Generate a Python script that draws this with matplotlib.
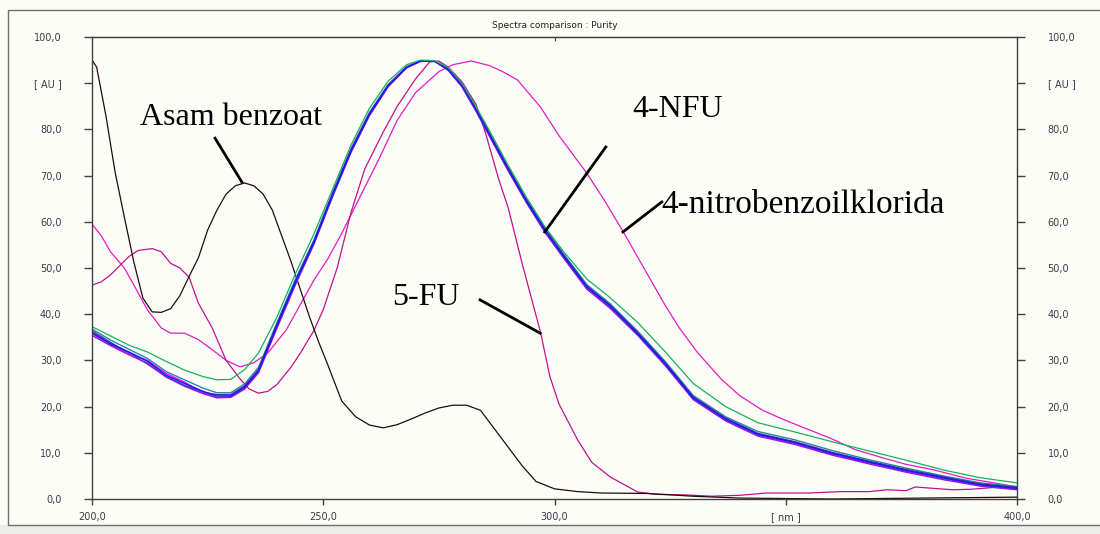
import matplotlib
matplotlib.use("Agg")
import matplotlib.pyplot as plt
from matplotlib.patches import Rectangle

# wavelength grid for the 4-NFU replicate spectra (nm)
nfu_wl = [200, 204, 208, 212, 216, 220, 224, 227, 230, 233, 236, 240, 244, 248, 252, 256, 260, 264,
          268, 271, 274, 277, 280, 283, 286, 290, 294, 298, 302, 307, 312, 318, 324, 330, 337, 344,
          352, 360, 368, 376, 384, 392, 400]
nfu_blue = [36.0, 33.6, 31.8, 29.8, 26.8, 25.0, 23.3, 22.3, 22.3, 24.2, 27.8, 37.6, 47.0, 55.6, 65.8,
            75.4, 83.3, 89.4, 93.4, 94.8, 94.8, 93.0, 89.5, 84.3, 78.8, 71.4, 64.4, 58.1, 52.5, 45.9,
            41.8, 35.8, 29.2, 21.9, 17.3, 14.0, 12.2, 9.9, 8.0, 6.2, 4.6, 3.1, 2.3]
nfu_violet = [35.4, 33.2, 31.2, 29.4, 26.4, 24.4, 22.8, 21.9, 22.0, 23.8, 27.3, 37.0, 46.4, 55.2, 65.4,
              75.0, 83.0, 89.2, 93.3, 94.7, 94.8, 92.8, 89.2, 84.0, 78.4, 71.0, 64.0, 57.6, 52.1, 45.4,
              41.3, 35.4, 28.8, 21.5, 16.9, 13.6, 11.8, 9.5, 7.6, 5.8, 4.2, 2.8, 2.0]
nfu_magenta = [35.8, 33.4, 31.5, 30.0, 27.2, 25.3, 23.0, 22.0, 22.1, 24.0, 27.6, 37.3, 46.7, 55.3, 65.6,
               75.2, 83.1, 89.3, 93.4, 94.8, 94.8, 92.9, 89.3, 84.1, 78.6, 71.2, 64.2, 57.9, 52.3, 45.7,
               41.5, 35.6, 29.0, 21.7, 17.1, 13.8, 12.0, 9.7, 7.8, 6.0, 4.4, 3.0, 2.1]
nfu_teal = [36.8, 34.4, 32.4, 30.4, 27.6, 25.8, 24.0, 23.0, 23.0, 24.9, 28.5, 38.2, 47.6, 56.1, 66.3,
            75.8, 83.7, 89.7, 93.6, 94.8, 94.8, 93.2, 89.8, 84.7, 79.2, 71.8, 64.8, 58.6, 53.0, 46.4,
            42.3, 36.3, 29.7, 22.4, 17.8, 14.6, 12.8, 10.5, 8.5, 6.7, 5.0, 3.5, 2.7]
nfu_navy = [36.4, 33.9, 31.6, 29.2, 26.5, 24.6, 23.1, 22.6, 22.6, 24.5, 28.0, 37.8, 47.2, 55.8, 66.0,
            75.6, 83.5, 89.5, 93.5, 94.8, 94.8, 93.1, 89.6, 84.5, 79.0, 71.6, 64.6, 58.3, 52.8, 46.1,
            42.0, 36.0, 29.4, 22.1, 17.5, 14.2, 12.4, 10.1, 8.2, 6.4, 4.8, 3.3, 2.5]
nfu_green = [37.3, 35.3, 33.3, 31.8, 29.8, 27.9, 26.5, 25.8, 25.9, 28.0, 31.6, 39.4, 48.8, 57.4, 67.0,
             76.6, 84.6, 90.4, 94.0, 95.0, 94.9, 93.4, 90.0, 85.0, 79.6, 72.2, 65.2, 58.8, 53.5, 47.6,
             43.6, 38.2, 31.8, 25.0, 20.0, 16.5, 14.5, 12.4, 10.4, 8.4, 6.3, 4.6, 3.5]

# asam benzoat
ab_wl = [200, 201, 203, 205, 207, 209, 211, 213, 215, 217, 219, 221, 223, 225, 227, 229, 231, 233, 235,
         237, 239, 241, 243, 245, 247, 249, 251, 254, 257, 260, 263, 266, 269, 272, 275, 278, 281, 284,
         287, 290, 293, 296, 300, 305, 310, 320, 330, 340, 350, 360, 370, 380, 390, 400]
ab_abs = [95.0, 93.5, 83.0, 70.7, 61.0, 51.5, 43.5, 40.5, 40.4, 41.2, 44.0, 48.2, 52.2, 58.2, 62.5, 66.0,
          67.8, 68.4, 67.8, 66.0, 62.5, 57.0, 51.5, 45.5, 39.5, 34.0, 29.0, 21.2, 17.8, 16.0, 15.4, 16.1,
          17.3, 18.6, 19.7, 20.3, 20.3, 19.2, 15.2, 11.2, 7.2, 3.8, 2.2, 1.6, 1.3, 1.2, 0.6, 0.2, 0.1, 0.0,
          0.1, 0.2, 0.3, 0.4]

# 5-FU
fu_wl = [200, 202, 204, 206, 208, 210, 213, 215, 217, 219, 221, 223, 226, 229, 232, 234, 236, 238, 240,
         243, 245, 248, 250, 253, 256, 259, 263, 266, 270, 273, 275, 277, 280, 283, 285, 288, 290, 293,
         297, 299, 301, 305, 308, 312, 318, 322, 328, 334, 340, 346, 355, 362, 368, 372, 376, 378, 382,
         386, 390, 395, 400]
fu_abs = [46.3, 47.0, 48.5, 50.5, 52.5, 53.8, 54.2, 53.5, 51.0, 50.0, 48.0, 42.4, 37.0, 30.0, 26.0, 23.8,
          22.9, 23.3, 24.8, 28.5, 31.5, 36.5, 41.0, 50.0, 62.0, 71.5, 79.5, 85.0, 91.0, 94.6, 94.8, 93.5,
          90.3, 85.5, 79.5, 69.0, 63.0, 51.0, 36.0, 26.5, 20.5, 12.8, 8.0, 4.8, 1.5, 1.0, 0.9, 0.6, 0.8,
          1.3, 1.3, 1.6, 1.6, 2.0, 1.8, 2.6, 2.3, 2.0, 2.1, 2.5, 2.4]

# 4-nitrobenzoilklorida
nb_wl = [200, 202, 204, 207, 209.5, 212, 215, 217, 220, 223, 226, 229, 232, 235, 238, 242, 245, 248, 251,
         254, 258, 262, 266, 270, 275, 278, 282, 286, 289, 292, 297, 301, 307, 311, 315, 320, 324, 327,
         331, 336, 340, 345, 350, 355, 360, 365, 371, 376, 382, 389, 395, 400]
nb_abs = [59.5, 57.0, 53.5, 50.0, 45.5, 40.9, 37.0, 35.9, 35.9, 34.5, 32.3, 30.0, 28.6, 29.5, 31.6, 36.6,
          42.0, 47.4, 52.0, 57.5, 65.5, 73.5, 82.0, 88.0, 92.5, 94.0, 94.8, 93.8, 92.4, 90.7, 84.8, 78.6,
          70.5, 64.3, 57.6, 48.8, 41.8, 37.0, 31.6, 26.0, 22.4, 19.2, 17.0, 15.0, 13.0, 10.7, 8.9, 7.5,
          6.3, 4.5, 3.5, 2.6]

x_ticks = [200, 250, 300, 350, 400]
x_labels = ["200,0", "250,0", "300,0", "[ nm ]", "400,0"]
y_ticks = [0, 10, 20, 30, 40, 50, 60, 70, 80, 90, 100]
y_labels = ["0,0", "10,0", "20,0", "30,0", "40,0", "50,0", "60,0", "70,0", "80,0", "[ AU ]", "100,0"]

bg = "#fdfdf7"
fig = plt.figure(figsize=(11, 5.34), dpi=100, facecolor=bg)

# outer frame and grey strip at the bottom
fig.patches.append(Rectangle((0, 0), 1, 1 - 525 / 534, transform=fig.transFigure,
                             facecolor="#ededea", edgecolor="none", zorder=-10))
fig.patches.append(Rectangle((8 / 1100, 1 - 525 / 534), 1.0, (525 - 10) / 534,
                             transform=fig.transFigure, facecolor=bg, edgecolor="#707070",
                             lw=1.0, zorder=-10))

ax = fig.add_axes([92 / 1100, 1 - 499 / 534, 925 / 1100, 462 / 534])
ax.set_facecolor(bg)

ax.plot(nb_wl, nb_abs, color="#e21cc6", lw=0.9)
ax.plot(fu_wl, fu_abs, color="#c0128e", lw=0.9)
ax.plot(ab_wl, ab_abs, color="#1e0c10", lw=0.9)
ax.plot(nfu_wl, nfu_teal, color="#2a84a8", lw=1.0)
ax.plot(nfu_wl, nfu_navy, color="#3a3a90", lw=1.0)
ax.plot(nfu_wl, nfu_magenta, color="#e010e8", lw=1.0)
ax.plot(nfu_wl, nfu_violet, color="#8a18e8", lw=1.0)
ax.plot(nfu_wl, nfu_blue, color="#1818f0", lw=1.1)
ax.plot(nfu_wl, nfu_green, color="#16b060", lw=0.9)

ax.set_xlim(200, 400)
ax.set_ylim(0, 100)

ax.set_xticks(x_ticks)
ax.set_xticklabels(x_labels)
ax.set_yticks(y_ticks)
ax.set_yticklabels(y_labels)
for s in ax.spines.values():
    s.set_color("#404040")
    s.set_linewidth(1.0)
ax.tick_params(axis="y", left=True, right=True, labelleft=True, labelright=True,
               length=6, width=1, color="#404040", labelsize=7, labelcolor="#3a3a4a", pad=16)
ax.tick_params(axis="x", length=4.5, width=1, color="#404040", labelsize=7,
               labelcolor="#3a3a4a", pad=5)
top = ax.secondary_xaxis("top")
top.set_xticks([300])
top.set_xticklabels([])
top.tick_params(direction="in", length=3, color="#404040")

fig.text(555 / 1100, 1 - 25 / 534, "Spectra comparison : Purity", ha="center", va="center",
         fontsize=6.5, color="#202020")

# labels with leader lines
serif = "Liberation Serif"
ax.text(210.4, 82.5, "Asam benzoat", fontsize=23, family=serif, va="center")
ax.plot([226.6, 232.4], [78.1, 68.6], color="black", lw=2)
ax.text(316.8, 84.2, "4-NFU", fontsize=23, family=serif, va="center")
ax.plot([311.1, 297.9], [76.2, 57.8], color="black", lw=2)
ax.text(323.2, 63.6, "4-nitrobenzoilklorida", fontsize=24, family=serif, va="center")
ax.plot([323.2, 314.8], [64.3, 57.8], color="black", lw=2)
ax.text(264.9, 43.7, "5-FU", fontsize=23, family=serif, va="center")
ax.plot([283.9, 296.9], [43.1, 35.9], color="black", lw=2)

fig.savefig("out.png", dpi=100, facecolor=bg)
